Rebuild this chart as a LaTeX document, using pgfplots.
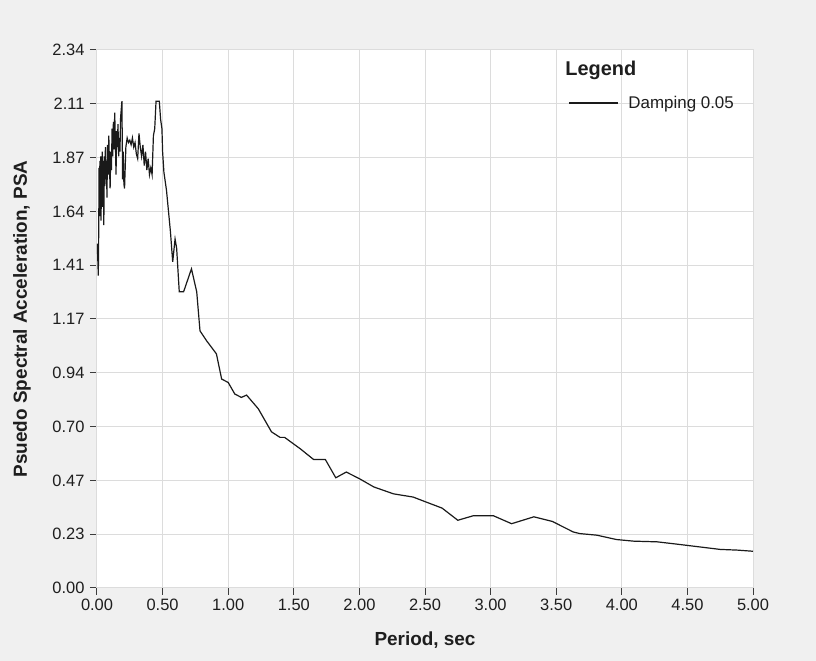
\documentclass[border=0pt]{standalone}
\usepackage{fontspec}
\setmainfont{Liberation Sans}
\usepackage{pgfplots}
\pgfplotsset{compat=1.18}
\definecolor{bgc}{HTML}{F0F0F0}
\definecolor{gridc}{HTML}{DCDCDC}
\definecolor{tickc}{HTML}{3C3C3C}
\definecolor{txtc}{HTML}{1E1E1E}
\definecolor{linec}{HTML}{1A1A1A}
\begin{document}
\begin{tikzpicture}[x=1bp,y=1bp]
\fill[bgc] (-97,-73) rectangle (719,588);
\begin{axis}[
  at={(0,0)}, anchor=south west,
  scale only axis, width=656bp, height=538bp,
  xmin=0, xmax=5, ymin=0, ymax=2.343,
  axis background/.style={fill=white},
  xtick={0,0.5,1,1.5,2,2.5,3,3.5,4,4.5,5},
  xticklabels={0.00,0.50,1.00,1.50,2.00,2.50,3.00,3.50,4.00,4.50,5.00},
  ytick={0,0.2343,0.4686,0.7029,0.9372,1.1715,1.4058,1.6401,1.8744,2.1087,2.343},
  yticklabels={0.00,0.23,0.47,0.70,0.94,1.17,1.41,1.64,1.87,2.11,2.34},
  grid=major, major grid style={gridc, line width=1bp},
  axis line style={gridc, line width=1bp},
  tick style={tickc, line width=1bp},
  tick align=outside, major tick length=7bp,
  xtick pos=left, ytick pos=left,
  ticklabel style={font=\fontsize{16.5}{19}\selectfont, text=txtc},
  yticklabel style={xshift=-2bp},
  xticklabel style={yshift=-1bp},
  xlabel={Period, sec},
  ylabel={Psuedo Spectral Acceleration, PSA},
  label style={font=\bfseries\fontsize{19}{22}\selectfont, text=txtc},
  xlabel style={at={(axis description cs:0.5,-0.0967)}, anchor=center},
  ylabel style={at={(axis description cs:-0.1143,0.5)}, anchor=center},
  legend style={draw=none, fill=none, at={(0.718,0.9015)}, anchor=west,
    inner sep=0pt, font=\fontsize{17}{20}\selectfont, text=txtc},
  legend image code/.code={\draw[#1] (0bp,0bp) -- (49bp,0bp); \path (57bp,0bp);},
]
\addplot[linec, line width=1.2bp] coordinates {
(0.000,1.50) (0.005,1.45) (0.010,1.36) (0.013,1.55) (0.016,1.83) (0.019,1.62)
(0.022,1.86) (0.025,1.70) (0.028,1.88) (0.031,1.60) (0.034,1.84) (0.037,1.72)
(0.040,1.90) (0.044,1.66) (0.048,1.86) (0.052,1.58) (0.056,1.88) (0.060,1.75)
(0.064,1.92) (0.068,1.78) (0.072,1.86) (0.076,1.70) (0.080,1.93) (0.085,1.80)
(0.090,1.97) (0.095,1.84) (0.100,1.74) (0.105,1.90) (0.110,1.82) (0.115,2.00)
(0.120,1.88) (0.125,2.03) (0.130,1.91) (0.135,2.07) (0.140,1.95) (0.145,1.80)
(0.150,1.99) (0.155,1.92) (0.160,2.02) (0.165,1.88) (0.170,1.96) (0.175,1.90)
(0.180,2.05) (0.190,2.12) (0.195,1.78) (0.200,1.90) (0.205,1.76) (0.210,1.74)
(0.220,1.92) (0.230,1.96) (0.240,1.94) (0.250,1.95) (0.260,1.93) (0.270,1.96)
(0.280,1.92) (0.290,1.94) (0.300,1.89) (0.310,1.87) (0.320,1.98) (0.330,1.92)
(0.340,1.88) (0.350,1.93) (0.360,1.84) (0.370,1.90) (0.380,1.82) (0.390,1.87)
(0.400,1.80) (0.410,1.83) (0.420,1.80) (0.430,1.97) (0.440,2.00) (0.450,2.12)
(0.475,2.12) (0.485,2.04) (0.495,2.00) (0.500,1.90) (0.510,1.81) (0.530,1.73)
(0.545,1.64) (0.560,1.55) (0.577,1.42) (0.595,1.52) (0.607,1.48) (0.627,1.29)
(0.660,1.29) (0.720,1.39) (0.760,1.29) (0.785,1.12) (0.836,1.076) (0.910,1.02)
(0.950,0.91) (1.000,0.895) (1.050,0.845) (1.100,0.83) (1.140,0.84) (1.230,0.78)
(1.280,0.73) (1.330,0.68) (1.395,0.656) (1.430,0.656) (1.480,0.635) (1.550,0.606)
(1.650,0.56) (1.740,0.56) (1.820,0.48) (1.900,0.505) (2.000,0.476) (2.110,0.44)
(2.260,0.41) (2.410,0.396) (2.510,0.374) (2.630,0.348) (2.750,0.295) (2.870,0.315)
(3.020,0.315) (3.160,0.28) (3.330,0.31) (3.470,0.29) (3.630,0.244) (3.680,0.237)
(3.810,0.23) (3.960,0.211) (4.090,0.204) (4.270,0.201) (4.420,0.191) (4.520,0.184)
(4.650,0.175) (4.750,0.168) (4.880,0.165) (5.000,0.16)
};
\addlegendentry{Damping 0.05}
\node[font=\bfseries\fontsize{20}{23}\selectfont, text=txtc, anchor=center]
  at (rel axis cs:0.768,0.963) {Legend};
\end{axis}
\end{tikzpicture}
\end{document}
